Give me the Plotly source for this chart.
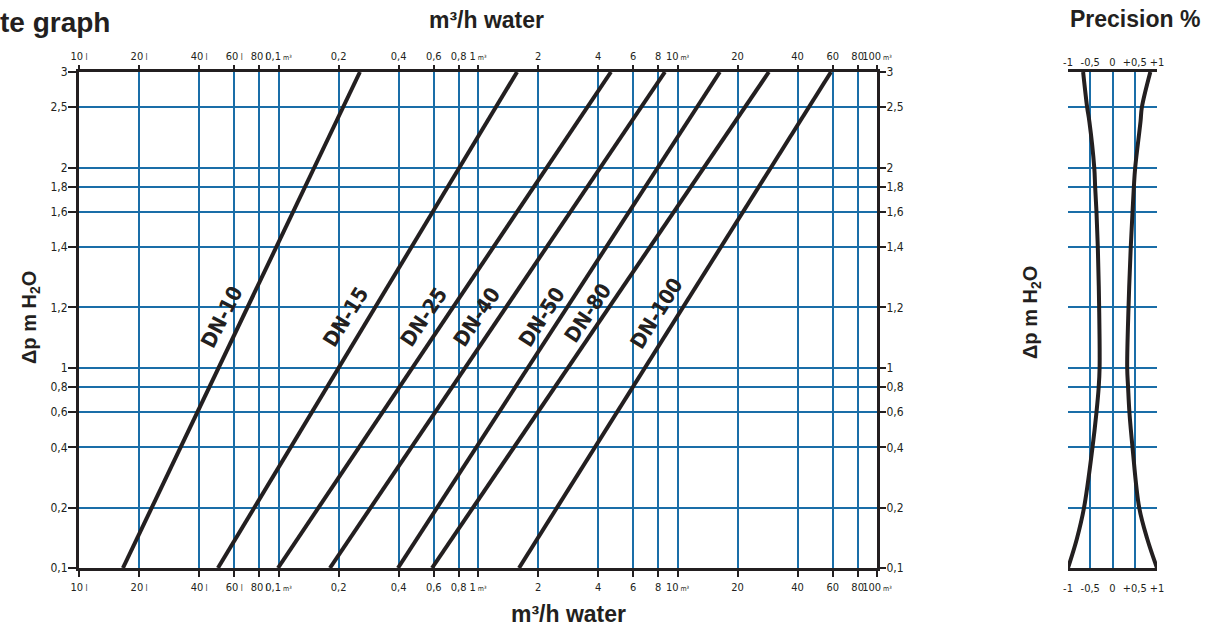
import plotly.graph_objects as go

# ---------------- data ----------------
dn_names = ["DN-10", "DN-15", "DN-25", "DN-40", "DN-50", "DN-80", "DN-100"]
flow_at_dp_min = [0.0166, 0.0497, 0.0994, 0.181, 0.397, 0.588, 1.605]   # m3/h at bottom of chart
flow_at_dp_max = [0.256, 1.57, 4.64, 8.65, 16.3, 28.7, 58.8]            # m3/h at top of chart
dp_min = 0.1
dp_max = 30

x_tickvals = [0.01, 0.02, 0.04, 0.06, 0.08, 0.1, 0.2, 0.4, 0.6, 0.8, 1, 2, 4, 6, 8, 10, 20, 40, 60, 80, 100]
x_ticktext = ["10 l", "20 l", "40 l", "60 l", "80 l", "0,1 m³", "0,2", "0,4", "0,6", "0,8", "1 m³",
              "2", "4", "6", "8", "10 m³", "20", "40", "60", "80", "100 m³"]
y_tickvals = [0.1, 0.2, 0.4, 0.6, 0.8, 1, 2, 4, 6, 8, 10, 20, 30]
y_ticktext = ["0,1", "0,2", "0,4", "0,6", "0,8", "1", "1,2", "1,4", "1,6", "1,8", "2", "2,5", "3"]

prec_dp = [0.1, 0.14, 0.2, 0.4, 0.6, 0.8, 1, 2, 4, 6, 8, 10, 17, 20, 30]
prec_left = [-1.0, -0.80, -0.64, -0.45, -0.36, -0.31, -0.29, -0.30, -0.33, -0.36, -0.39, -0.41, -0.52, -0.57, -0.66]
prec_right = [1.0, 0.78, 0.60, 0.45, 0.38, 0.35, 0.33, 0.36, 0.41, 0.45, 0.48, 0.51, 0.63, 0.66, 0.85]
prec_tickvals = [-1, -0.5, 0, 0.5, 1]
prec_ticktext = ["-1", "-0,5", "0", "+0,5", "+1"]

# label placement (log10 coordinates) and angle
label_x_log = [-1.283, -0.662, -0.271, -0.005, 0.321, 0.551, 0.897]
label_y_log = [0.254, 0.254, 0.254, 0.254, 0.254, 0.274, 0.274]
label_angle = [-63, -58, -56, -56, -57, -56, -58]

# ---------------- style ----------------
W, H = 1213, 631
GRID = "#1a6ea8"
INK = "#231f20"
NARROW = "Liberation Sans Narrow, DejaVu Sans Condensed, Arial Narrow, sans-serif"
TICKFONT = dict(family=NARROW, size=11, color=INK)
YTICKFONT = dict(family=NARROW, size=12, color=INK)
PRECFONT = dict(family=NARROW, size=11, color=INK)
TITLEFONT = "Liberation Sans, Arial, Helvetica, sans-serif"


def small_unit(t):
    # units are printed smaller than the numbers
    for unit, fs in ((" m³", 7), (" l", 8)):
        if t.endswith(unit):
            return t[: -len(unit)] + "<span style='font-size:%dpx'>%s</span>" % (fs, unit)
    return t


x_ticklabels = [small_unit(t) for t in x_ticktext]


def px_x(p):
    return p / W


def px_y(p):
    return 1 - p / H


main_xdom = [px_x(79), px_x(877)]
main_ydom = [px_y(568), px_y(72)]
prec_xdom = [px_x(1068), px_x(1157)]

fig = go.Figure()

for name, q0, q1 in zip(dn_names, flow_at_dp_min, flow_at_dp_max):
    fig.add_trace(go.Scatter(x=[q0, q1], y=[dp_min, dp_max], mode="lines",
                             line=dict(color=INK, width=4), name=name, showlegend=False,
                             xaxis="x", yaxis="y", hoverinfo="skip"))

# invisible helpers so that overlay axes are drawn
fig.add_trace(go.Scatter(x=[0.01, 100], y=[dp_min, dp_max], mode="lines", line=dict(width=0),
                         xaxis="x2", yaxis="y", showlegend=False, hoverinfo="skip"))
fig.add_trace(go.Scatter(x=[0.01, 100], y=[dp_min, dp_max], mode="lines", line=dict(width=0),
                         xaxis="x", yaxis="y2", showlegend=False, hoverinfo="skip"))

fig.add_trace(go.Scatter(x=prec_left, y=prec_dp, mode="lines", line=dict(color=INK, width=4, shape="spline"),
                         xaxis="x3", yaxis="y3", showlegend=False, hoverinfo="skip"))
fig.add_trace(go.Scatter(x=prec_right, y=prec_dp, mode="lines", line=dict(color=INK, width=4, shape="spline"),
                         xaxis="x3", yaxis="y3", showlegend=False, hoverinfo="skip"))
fig.add_trace(go.Scatter(x=[-1, 1], y=[dp_min, dp_max], mode="lines", line=dict(width=0),
                         xaxis="x4", yaxis="y3", showlegend=False, hoverinfo="skip"))

ylog_range = [-1, 1.4771]

common_x = dict(type="log", range=[-2, 2], tickvals=x_tickvals, ticktext=x_ticklabels, tickfont=TICKFONT,
                ticks="outside", ticklen=6, tickwidth=2, tickcolor=INK, zeroline=False, tickangle=0,
                automargin=False, ticklabelstandoff=1)
common_y = dict(type="log", range=ylog_range, tickvals=y_tickvals, ticktext=y_ticktext, tickfont=YTICKFONT,
                ticks="outside", ticklen=8, tickwidth=2, tickcolor=INK, zeroline=False, automargin=False,
                ticklabelstandoff=-2)

fig.update_layout(
    template="none",
    width=W, height=H, autosize=False,
    margin=dict(l=0, r=0, t=0, b=0),
    paper_bgcolor="white", plot_bgcolor="white",
    xaxis=dict(domain=main_xdom, anchor="y", showgrid=True, gridcolor=GRID, gridwidth=2,
               showline=True, linecolor=INK, linewidth=3, mirror=True, **common_x),
    xaxis2=dict(domain=main_xdom, anchor="y", overlaying="x", side="top", showgrid=False,
                showline=False, **common_x),
    yaxis=dict(domain=main_ydom, anchor="x", showgrid=True, gridcolor=GRID, gridwidth=2,
               showline=True, linecolor=INK, linewidth=3, mirror=True, **common_y),
    yaxis2=dict(domain=main_ydom, anchor="x", overlaying="y", side="right", showgrid=False,
                showline=False, **common_y),
    xaxis3=dict(domain=prec_xdom, anchor="y3", range=[-1, 1], tickvals=prec_tickvals, ticktext=prec_ticktext,
                tickfont=PRECFONT, ticks="outside", ticklen=8, tickcolor="rgba(0,0,0,0)",
                showgrid=True, gridcolor=GRID, gridwidth=2, zeroline=False, automargin=False,
                showline=True, linecolor=INK, linewidth=3, mirror=True, tickangle=0),
    xaxis4=dict(domain=prec_xdom, anchor="y3", overlaying="x3", side="top", range=[-1, 1],
                tickvals=prec_tickvals, ticktext=prec_ticktext, tickfont=PRECFONT, ticks="outside",
                ticklen=1, tickcolor="rgba(0,0,0,0)", automargin=False,
                showgrid=False, zeroline=False, showline=False, tickangle=0),
    yaxis3=dict(domain=main_ydom, anchor="x3", type="log", range=ylog_range, tickvals=y_tickvals,
                showticklabels=False, ticks="", showgrid=True, gridcolor=GRID, gridwidth=2,
                zeroline=False, automargin=False),
)

annotations = []
for name, lx, ly, ang in zip(dn_names, label_x_log, label_y_log, label_angle):
    annotations.append(dict(x=lx, y=ly, xref="x", yref="y", text="<b>" + name + "</b>", showarrow=False,
                            textangle=ang, xanchor="center", yanchor="middle",
                            font=dict(family=NARROW, size=21, color=INK)))


def title_ann(text, x, y, size, angle=0):
    return dict(x=px_x(x), y=px_y(y), xref="paper", yref="paper", text="<b>" + text + "</b>",
                showarrow=False, xanchor="center", yanchor="middle", textangle=angle,
                font=dict(family=TITLEFONT, size=size, color=INK))


annotations.append(dict(x=0, y=px_y(22), xref="paper", yref="paper", text="<b>te graph</b>", showarrow=False,
                        xanchor="left", yanchor="middle", xshift=-2,
                        font=dict(family=TITLEFONT, size=28, color=INK)))
annotations.append(title_ann("m³/h water", 486, 20, 23))
annotations.append(title_ann("m³/h water", 568, 614, 23))
annotations.append(title_ann("Precision %", 1135, 19, 23))
annotations.append(title_ann("Δp m H<sub>2</sub>O", 30, 318, 20, -90))
annotations.append(title_ann("Δp m H<sub>2</sub>O", 1031, 313, 20, -90))

fig.update_layout(annotations=annotations)

fig.write_html("out.html", config={"displayModeBar": False},
               post_script="document.body.style.margin='0';document.body.style.overflow='hidden';")
